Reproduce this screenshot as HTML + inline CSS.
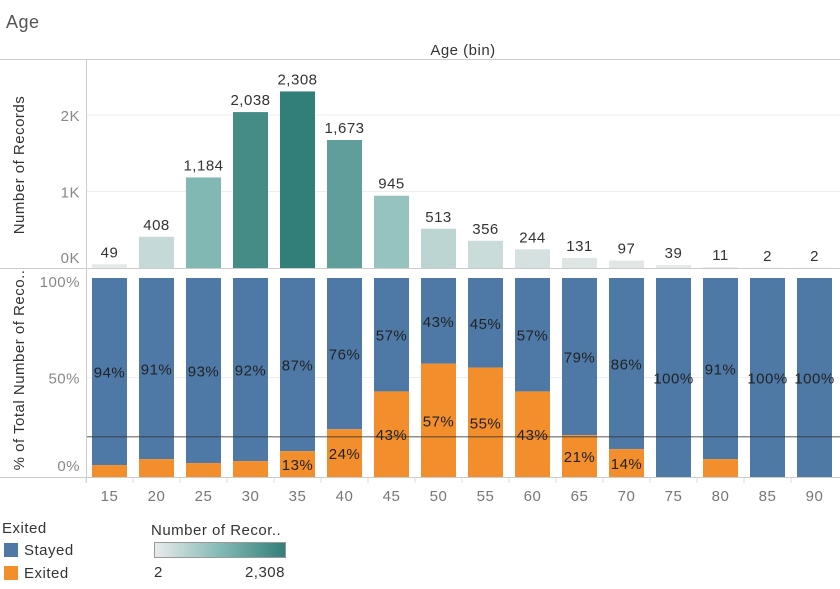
<!DOCTYPE html>
<html><head><meta charset="utf-8"><style>
body{margin:0;background:#fff;width:840px;height:584px;overflow:hidden;font-family:"Liberation Sans",sans-serif}
svg text{font-family:"Liberation Sans",sans-serif;letter-spacing:0.5px}
</style></head><body>
<svg id="c" width="840" height="584"></svg>
<script>
const categories=[15,20,25,30,35,40,45,50,55,60,65,70,75,80,85,90];
const counts=[49,408,1184,2038,2308,1673,945,513,356,244,131,97,39,11,2,2];
const exitedPct=[6,9,7,8,13,24,43,57,55,43,21,14,0,9,0,0];
const stayedPct=[94,91,93,92,87,76,57,43,45,57,79,86,100,91,100,100];
const countTicks=[0,1000,2000];
const countTickLabels=["0K","1K","2K"];
const pctTicks=[0,50,100];
const pctTickLabels=["0%","50%","100%"];
const refLine=[20.2];

const NS="http://www.w3.org/2000/svg";
const svg=document.getElementById('c');
function mk(t,a,p){const e=document.createElementNS(NS,t);for(const k in a)e.setAttribute(k,a[k]);(p||svg).appendChild(e);return e;}
const x0=109.5,step=47,bw=35;
const xc=i=>x0+i*step;
const yTop=v=>268-v*0.0765;
const yPct=v=>477-v*1.99;
function col(v){const t=(v-2)/(2308-2);const A=[233,235,235],M=[132,185,181],B=[50,126,121];
  let a,b,u;if(t<0.5){a=A;b=M;u=t/0.5;}else{a=M;b=B;u=(t-0.5)/0.5;}
  return `rgb(${a.map((c,i)=>Math.round(c+(b[i]-c)*u)).join(',')})`;}
function nudge(y,lo,hi){return Math.max(lo,Math.min(hi,y));}

let e;
e=mk('text',{x:6,y:28,'font-size':18,fill:'#555'});e.textContent='Age';

e=mk('text',{x:463,y:55,'font-size':15,fill:'#333','text-anchor':'middle'});e.textContent='Age (bin)';

mk('line',{x1:0,x2:840,y1:59.5,y2:59.5,stroke:'#ccc'});
mk('line',{x1:86.5,x2:86.5,y1:59,y2:483,stroke:'#ccc'});
mk('line',{x1:0,x2:840,y1:268.5,y2:268.5,stroke:'#ccc'});
mk('line',{x1:0,x2:840,y1:477.5,y2:477.5,stroke:'#ccc'});

countTicks.forEach((t,i)=>{
  if(t>0)mk('line',{x1:87,x2:840,y1:yTop(t),y2:yTop(t),stroke:'#eee'});
  e=mk('text',{x:80,y:nudge(yTop(t),70,257)+6,'font-size':15,fill:'#888','text-anchor':'end'});e.textContent=countTickLabels[i];
  
});
pctTicks.forEach((t,i)=>{
  if(t==50)mk('line',{x1:87,x2:840,y1:yPct(t),y2:yPct(t),stroke:'#eee'});
  e=mk('text',{x:80,y:nudge(yPct(t),281,465)+6,'font-size':15,fill:'#888','text-anchor':'end'});e.textContent=pctTickLabels[i];
  
});
e=mk('text',{transform:'translate(24,165) rotate(-90)','font-size':15,fill:'#333','text-anchor':'middle'});e.textContent='Number of Records';

e=mk('text',{transform:'translate(24,370) rotate(-90)','font-size':15,fill:'#333','text-anchor':'middle'});e.textContent='% of Total Number of Reco..';


categories.forEach((c,i)=>{
  const x=xc(i)-bw/2;
  e=mk('rect',{x:x,y:yTop(counts[i]),width:bw,height:268-yTop(counts[i]),fill:col(counts[i])});
  
  e=mk('text',{x:xc(i),y:yTop(counts[i])-7,'font-size':15,fill:'#333','text-anchor':'middle'});e.textContent=counts[i].toLocaleString('en-US');
  
  const ye=yPct(exitedPct[i]);
  e=mk('rect',{x:x,y:yPct(100),width:bw,height:ye-yPct(100),fill:'#4e79a7'});
  
  if(exitedPct[i]>0){e=mk('rect',{x:x,y:ye,width:bw,height:477-ye,fill:'#f28e2b'});
  }
  e=mk('text',{x:xc(i),y:(yPct(100)+ye)/2+6,'font-size':15,fill:'#222','text-anchor':'middle'});e.textContent=stayedPct[i]+'%';
  
  if(exitedPct[i]>=12){e=mk('text',{x:xc(i),y:(ye+477)/2+6,'font-size':15,fill:'#222','text-anchor':'middle'});e.textContent=exitedPct[i]+'%';
  }
  mk('line',{x1:x-6,x2:x-6,y1:478,y2:483,stroke:'#ddd'});
  e=mk('text',{x:xc(i),y:501,'font-size':15,fill:'#777','text-anchor':'middle'});e.textContent=c;
  
});
e=mk('line',{x1:87,x2:840,y1:yPct(refLine[0]),y2:yPct(refLine[0]),stroke:'#333','stroke-opacity':0.55,'stroke-width':1.5});


e=mk('text',{x:2,y:533,'font-size':15,fill:'#333'});e.textContent='Exited';

[['Stayed','#4e79a7',543],['Exited','#f28e2b',566]].forEach(d=>{
  e=mk('rect',{x:4,y:d[2],width:14,height:14,fill:d[1]});
  e=mk('text',{x:24,y:d[2]+12,'font-size':15,fill:'#333'});e.textContent=d[0];
  
});
const dg=mk('defs',{});const lg=mk('linearGradient',{id:'g'},dg);
[0,0.25,0.5,0.75,1].forEach(o=>mk('stop',{offset:o,'stop-color':col(2+o*2306)},lg));
e=mk('text',{x:151,y:535,'font-size':15,fill:'#333'});e.textContent='Number of Recor..';

e=mk('rect',{x:154.5,y:542.5,width:131,height:15,fill:'url(#g)',stroke:'#999'});

e=mk('text',{x:154,y:577,'font-size':15,fill:'#333'});e.textContent='2';

e=mk('text',{x:285,y:577,'font-size':15,fill:'#333','text-anchor':'end'});e.textContent='2,308';

</script>
</body></html>
